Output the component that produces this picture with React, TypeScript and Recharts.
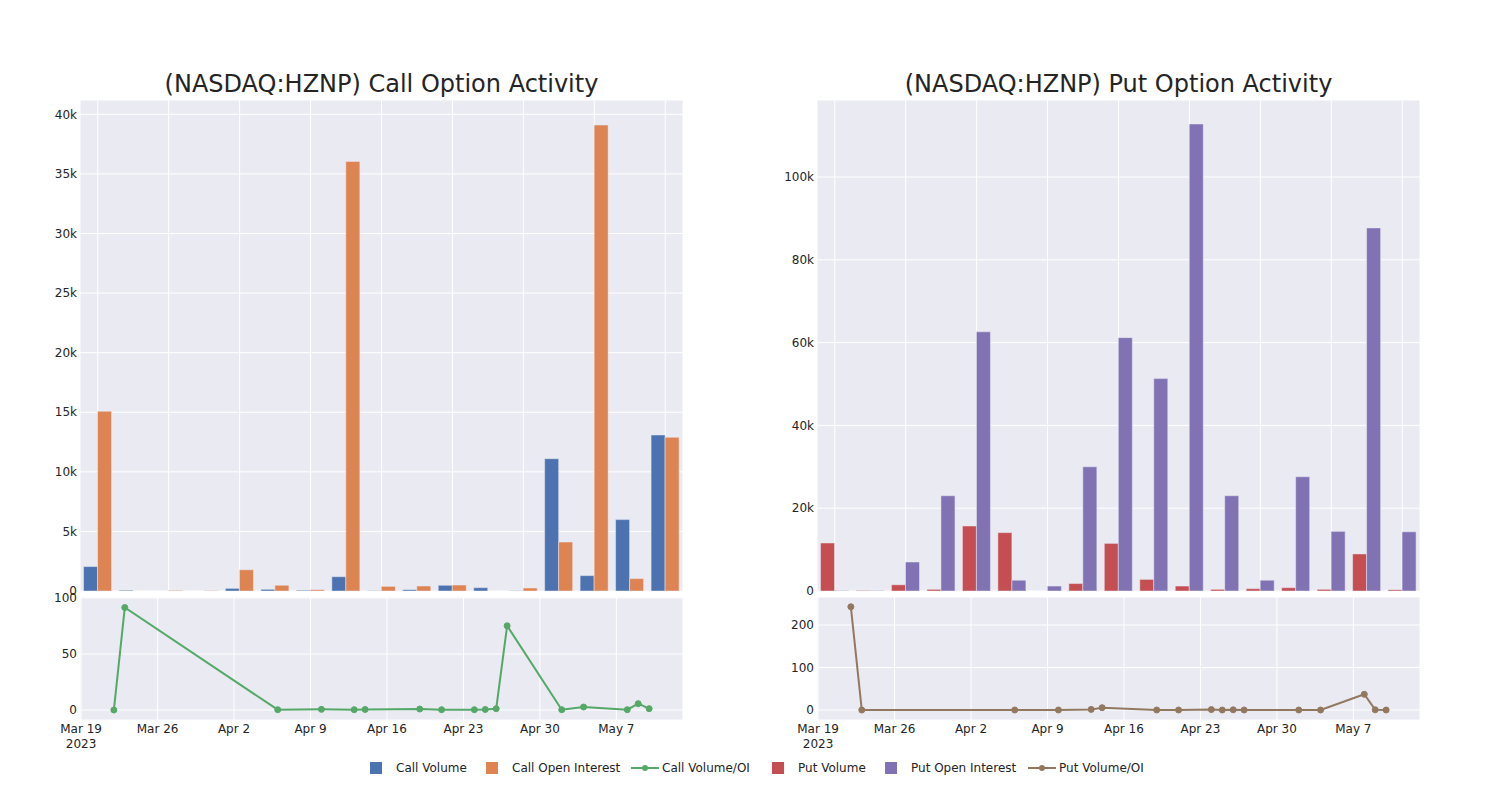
import React from 'react';
import { BarChart, Bar, LineChart, Line, XAxis, YAxis, CartesianGrid } from 'recharts';

// ---------- data ----------
const dates = [
  '2023-03-22', '2023-03-23', '2023-04-06', '2023-04-10', '2023-04-13', '2023-04-14',
  '2023-04-19', '2023-04-21', '2023-04-24', '2023-04-25', '2023-04-26', '2023-04-27',
  '2023-05-02', '2023-05-04', '2023-05-08', '2023-05-09', '2023-05-10',
];
const callVolume = [2050, 60, 0, 0, 220, 140, 60, 1200, 20, 110, 480, 280, 20, 11100, 1290, 5990, 13090];
const callOpenInterest = [15080, 0, 50, 30, 1780, 480, 110, 36050, 390, 420, 500, 0, 250, 4110, 39100, 1040, 12900];
const callVolOI = [0, 91.5, 0.3, 0.6, 0.3, 0.5, 0.9, 0.3, 0.3, 0.5, 1.2, 75.2, 0.3, 2.7, 0.3, 5.7, 1.2];
const putVolume = [11600, 100, 1500, 400, 15700, 14100, 0, 1800, 11500, 2800, 1200, 400, 560, 800, 400, 8950, 300];
const putOpenInterest = [100, 100, 7000, 23000, 62600, 2600, 1200, 30000, 61200, 51300, 112800, 23000, 2600, 27600, 14400, 87700, 14300];
const putVolOI = [243, 0, 0, 0, 1.5, 5.5, 0, 0, 1, 0, 0.5, 0, 0, 0, 37, 0.5, 0];

const callYTicks = [0, 5000, 10000, 15000, 20000, 25000, 30000, 35000, 40000];
const putYTicks = [0, 20000, 40000, 60000, 80000, 100000];
const callRatioTicks = [0, 50, 100];
const putRatioTicks = [0, 100, 200];
const weekTicks = ['2023-03-19', '2023-03-26', '2023-04-02', '2023-04-09', '2023-04-16', '2023-04-23', '2023-04-30', '2023-05-07'];
const titles = ['(NASDAQ:HZNP) Call Option Activity', '(NASDAQ:HZNP) Put Option Activity'];
const legendLabels = ['Call Volume', 'Call Open Interest', 'Call Volume/OI', 'Put Volume', 'Put Open Interest', 'Put Volume/OI'];

// ---------- style ----------
const FONT = '"DejaVu Sans", sans-serif';
const TEXT = '#242424';
const BG = '#EAEAF2';
const C_BLUE = '#4C72B0';
const C_ORANGE = '#DD8452';
const C_GREEN = '#55A868';
const C_RED = '#C44E52';
const C_PURPLE = '#8172B3';
const C_BROWN = '#937860';
const MONTHS = ['Jan', 'Feb', 'Mar', 'Apr', 'May', 'Jun', 'Jul', 'Aug', 'Sep', 'Oct', 'Nov', 'Dec'];
const DAY = 86400000;

const toTs = (s: string) => {
  const [y, m, d] = s.split('-').map(Number);
  return Date.UTC(y, m - 1, d);
};

const callBars = dates.map((d, i) => ({ date: d, a: callVolume[i], b: callOpenInterest[i] }));
const putBars = dates.map((d, i) => ({ date: d, a: putVolume[i], b: putOpenInterest[i] }));
const callLine = dates.map((d, i) => ({ t: toTs(d), v: callVolOI[i] }));
const putLine = dates.map((d, i) => ({ t: toTs(d), v: putVolOI[i] }));
const tsTicks = weekTicks.map(toTs);
const xDomain = [toTs(dates[0]) - 3.1 * DAY, toTs(dates[dates.length - 1]) + 3.1 * DAY];
const evenCats = dates.filter((_, i) => i % 2 === 0);

const kFmt = (v: number) => (v === 0 ? '0' : `${v / 1000}k`);
const tickStyle = { fontFamily: FONT, fontSize: 12, fill: TEXT };

const EmptyTick = () => <g />;

const DateTick = (props: any) => {
  const { x, y, payload, index } = props;
  const dt = new Date(payload.value);
  const label = `${MONTHS[dt.getUTCMonth()]} ${dt.getUTCDate()}`;
  return (
    <text x={x} y={y} textAnchor="middle" fontFamily={FONT} fontSize={12} fill={TEXT}>
      <tspan x={x} dy="0.75em">{label}</tspan>
      {index === 0 ? <tspan x={x} dy="1.25em">{dt.getUTCFullYear()}</tspan> : null}
    </text>
  );
};

const TopChart = ({ data, colA, colB, ticks, domain }: any) => (
  <BarChart
    width={700}
    height={510}
    data={data}
    margin={{ top: 10, right: 17, bottom: 8, left: 0 }}
    barCategoryGap="10%"
    barGap={0}
  >
    <CartesianGrid fill={BG} stroke="#ffffff" strokeWidth={1} />
    <XAxis
      dataKey="date"
      type="category"
      ticks={evenCats}
      interval={0}
      height={1}
      tick={<EmptyTick />}
      axisLine={false}
      tickLine={false}
    />
    <YAxis
      width={80}
      domain={domain}
      ticks={ticks}
      allowDataOverflow
      tickFormatter={kFmt}
      tick={tickStyle}
      tickSize={0}
      tickMargin={3}
      axisLine={false}
      tickLine={false}
    />
    <Bar dataKey="a" fill={colA} stroke={BG} strokeWidth={0.5} isAnimationActive={false} />
    <Bar dataKey="b" fill={colB} stroke={BG} strokeWidth={0.5} isAnimationActive={false} />
  </BarChart>
);

const BottomChart = ({ data, color, ticks, domain }: any) => (
  <LineChart width={700} height={190} data={data} margin={{ top: 7, right: 17, bottom: 0, left: 0 }}>
    <CartesianGrid fill={BG} stroke="#ffffff" strokeWidth={1} />
    <XAxis
      dataKey="t"
      type="number"
      domain={xDomain}
      ticks={tsTicks}
      allowDataOverflow
      height={60}
      tick={<DateTick />}
      tickSize={0}
      tickMargin={4}
      axisLine={false}
      tickLine={false}
      interval={0}
    />
    <YAxis
      width={80}
      domain={domain}
      ticks={ticks}
      allowDataOverflow
      tick={tickStyle}
      tickSize={0}
      tickMargin={3}
      axisLine={false}
      tickLine={false}
    />
    <Line
      dataKey="v"
      stroke={color}
      strokeWidth={2}
      dot={{ r: 3, fill: color, stroke: color, strokeWidth: 1 }}
      isAnimationActive={false}
    />
  </LineChart>
);

const legendColors = [C_BLUE, C_ORANGE, C_GREEN, C_RED, C_PURPLE, C_BROWN];
const legendIsLine = [false, false, true, false, false, true];
const legendX = [370, 486, 631, 772, 885, 1028];

export default function App() {
  return (
    <div style={{ position: 'absolute', left: 0, top: 0, width: 1500, height: 800, background: '#ffffff', overflow: 'hidden' }}>
      <div style={{ position: 'absolute', left: 0, top: 90 }}>
        <TopChart data={callBars} colA={C_BLUE} colB={C_ORANGE} ticks={callYTicks} domain={[0, 41200]} />
      </div>
      <div style={{ position: 'absolute', left: 737, top: 90 }}>
        <TopChart data={putBars} colA={C_RED} colB={C_PURPLE} ticks={putYTicks} domain={[0, 118600]} />
      </div>
      <div style={{ position: 'absolute', left: 0, top: 590 }}>
        <BottomChart data={callLine} color={C_GREEN} ticks={callRatioTicks} domain={[-8.9, 100.9]} />
      </div>
      <div style={{ position: 'absolute', left: 737, top: 590 }}>
        <BottomChart data={putLine} color={C_BROWN} ticks={putRatioTicks} domain={[-23.5, 266]} />
      </div>
      <svg style={{ position: 'absolute', left: 0, top: 0 }} width={1500} height={100}>
        <text x={381.5} y={92} textAnchor="middle" fontFamily={FONT} fontSize={24} fill={TEXT}>{titles[0]}</text>
        <text x={1118.5} y={92} textAnchor="middle" fontFamily={FONT} fontSize={24} fill={TEXT}>{titles[1]}</text>
      </svg>
      <svg style={{ position: 'absolute', left: 0, top: 750 }} width={1500} height={40}>
        {legendLabels.map((lab, i) => {
          const x = legendX[i];
          const c = legendColors[i];
          return (
            <g key={lab}>
              {legendIsLine[i] ? (
                <g>
                  <line x1={x} y1={18} x2={x + 28} y2={18} stroke={c} strokeWidth={2} />
                  <circle cx={x + 14} cy={18} r={3} fill={c} />
                </g>
              ) : (
                <rect x={x} y={12} width={12} height={12} fill={c} />
              )}
              <text x={legendIsLine[i] ? x + 31 : x + 26} y={22} fontFamily={FONT} fontSize={12} fill={TEXT}>{lab}</text>
            </g>
          );
        })}
      </svg>
    </div>
  );
}
